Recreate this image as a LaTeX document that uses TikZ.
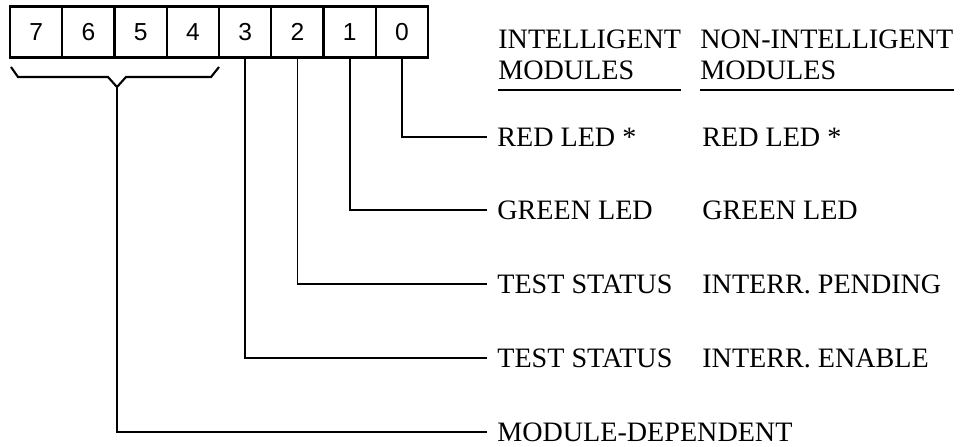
\documentclass[tikz,border=0pt]{standalone}
\usepackage{fontspec}
\setmainfont{Liberation Serif}
\newfontfamily\digitos{Liberation Sans}
\tikzset{
  bitcell/.style={draw, line width=1.3pt, minimum width=1.045cm, minimum height=1.02cm, inner sep=0pt, font=\digitos\fontsize{14}{16}\selectfont},
  fio/.style={line width=1pt},
  chave/.style={line width=1.2pt, line join=miter},
  rotulo/.style={anchor=west, inner ysep=0pt, text height=10.6pt, text depth=0pt, font=\fontsize{16}{17.6}\selectfont},
  cabec/.style={anchor=south west, align=left, inner xsep=0pt, inner ysep=0.2cm, font=\fontsize{16}{17.6}\selectfont},
  sublinha/.style={line width=1.4pt},
}

\begin{document}
\begin{tikzpicture}[x=0.02cm, y=-0.02cm]
  \useasboundingbox (0,0) rectangle (972,446);

  % ---------------- registo de 8 bits ----------------
  \foreach \b in {7,...,0} {
    \node[bitcell] (b\b) at ({36.125+52.25*(7-\b)},32) {\b};
  }

  % ---------------- cabeçalhos ----------------
  \node[cabec] (hi) at (498,90) {INTELLIGENT\\MODULES};
  \node[cabec] (hn) at (700,90) {NON-INTELLIGENT\\MODULES};
  \draw[sublinha] (hi.south west) -- (hi.south east);
  \draw[sublinha] (hn.south west) -- (hn.south east);

  % ---------------- bits 0 a 3 ----------------
  \foreach \b/\y/\ti/\tn in {0/137/RED LED */RED LED *,
                             1/210/GREEN LED/GREEN LED,
                             2/284/TEST STATUS/INTERR. PENDING,
                             3/358/TEST STATUS/INTERR. ENABLE} {
    \node[rotulo, inner xsep=0.2cm] (i\b) at (487,\y) {\ti};
    \node[rotulo, inner xsep=0pt] (n\b) at (702,\y) {\tn};
    \draw[fio] (b\b.south) |- (i\b.west);
  }

  % ---------------- bits 4 a 7 ----------------
  \coordinate (ponta) at (117,87);
  \draw[chave] (11,67) -- (18,77) -- (108,77) -- (ponta) -- (126,77) -- (211,77) -- (219,67);
  \node[rotulo, inner xsep=0.2cm] (i4) at (487,432) {MODULE-DEPENDENT};
  \draw[fio] (ponta) |- (i4.west);
\end{tikzpicture}
\end{document}
